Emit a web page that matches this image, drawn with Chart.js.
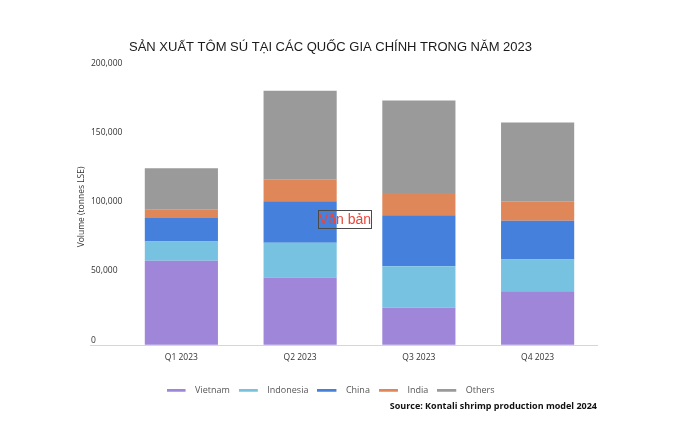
<!DOCTYPE html>
<html lang="vi">
<head>
  <meta charset="UTF-8">
  <title>Sản xuất tôm sú 2023</title>
  <script src="https://cdn.jsdelivr.net/npm/chart.js"></script>
  <style>
    html, body { margin: 0; padding: 0; background: #fff; }
    #wrap { width: 680px; height: 429px; }
  </style>
</head>
<body>
  <div id="wrap"><canvas id="shrimpChart"></canvas></div>

  <script>
    // data (tonnes LSE)
    const quarters = ['Q1 2023', 'Q2 2023', 'Q3 2023', 'Q4 2023'];
    const vietnam = [61000, 49000, 27000, 39000];
    const indonesia = [14000, 25000, 30000, 23000];
    const china = [17000, 30000, 37000, 28000];
    const india = [6000, 16000, 16000, 14000];
    const others = [30000, 64000, 67000, 57000];
    const seriesNames = ['Vietnam', 'Indonesia', 'China', 'India', 'Others'];
    const seriesColors = ['#9f86d8', '#76c2e0', '#4580dd', '#df8759', '#9a9a9a'];
    const yTicks = [0, 50000, 100000, 150000, 200000];

    const seriesData = [vietnam, indonesia, china, india, others];

    // small line marker for the legend, with a gap on its right side
    function lineMarker(color) {
      const c = document.createElement('canvas');
      c.width = 24;
      c.height = 4;
      const g = c.getContext('2d');
      g.fillStyle = color;
      g.fillRect(0, 0, 19, 3);
      return c;
    }
    const markers = seriesColors.map(lineMarker);

    // the floating "Văn bản" text box that sits over the picture
    const textBoxPlugin = {
      id: 'textBox',
      afterDraw(chart) {
        const ctx = chart.ctx;
        ctx.save();
        ctx.strokeStyle = '#4a4a4a';
        ctx.lineWidth = 1;
        ctx.strokeRect(318.5, 210.5, 53, 18);
        ctx.fillStyle = '#e8463a';
        ctx.font = '14px "Liberation Sans", Arial, sans-serif';
        ctx.textBaseline = 'middle';
        ctx.fillText('Văn bản', 319, 220);
        ctx.restore();
      }
    };

    const ctx = document.getElementById('shrimpChart').getContext('2d');
    new Chart(ctx, {
      type: 'bar',
      data: {
        labels: quarters,
        datasets: seriesNames.map((name, i) => ({
          label: name,
          data: seriesData[i],
          backgroundColor: seriesColors[i],
          borderWidth: 0,
          barPercentage: 0.616,
          categoryPercentage: 1
        }))
      },
      options: {
        responsive: true,
        maintainAspectRatio: false,
        animation: false,
        layout: {
          padding: { top: 30, left: 64, right: 83, bottom: 9 }
        },
        scales: {
          x: {
            stacked: true,
            grid: { display: false, drawTicks: false },
            border: { display: true, color: '#d6d6d6', width: 1 },
            ticks: {
              padding: 7,
              color: '#333',
              font: { family: '"Open Sans", sans-serif', size: 8.5 }
            },
            afterFit(scale) { scale.height = 32; }
          },
          y: {
            stacked: true,
            min: 0,
            max: 200000,
            afterBuildTicks(scale) {
              scale.ticks = yTicks.map(v => ({ value: v }));
            },
            afterFit(scale) { scale.width = 58; },
            border: { display: false },
            grid: {
              drawOnChartArea: false,
              drawTicks: true,
              tickLength: 32,
              tickColor: c => (c.tick && c.tick.value === 0 ? '#d6d6d6' : 'rgba(0,0,0,0)')
            },
            ticks: {
              mirror: true,
              padding: -31,
              labelOffset: -5,
              color: '#333',
              font: { family: '"Open Sans", sans-serif', size: 8.5 },
              callback: v => v.toLocaleString('en-US')
            },
            title: {
              display: true,
              text: 'Volume (tonnes LSE)',
              color: '#333',
              padding: { top: 12, bottom: 0 },
              font: { family: '"Open Sans", sans-serif', size: 8.5 }
            }
          }
        },
        plugins: {
          title: {
            display: true,
            text: 'SẢN XUẤT TÔM SÚ TẠI CÁC QUỐC GIA CHÍNH TRONG NĂM 2023',
            color: '#1a1a1a',
            font: { family: '"Liberation Sans", Arial, sans-serif', size: 13, weight: 'normal' },
            padding: { top: 10, bottom: 13 }
          },
          subtitle: {
            display: true,
            position: 'bottom',
            align: 'end',
            text: 'Source: Kontali shrimp production model 2024',
            color: '#111',
            font: { family: '"Open Sans", sans-serif', size: 9, weight: 'bold' },
            padding: { top: -4, bottom: 8 }
          },
          legend: {
            position: 'bottom',
            labels: {
              usePointStyle: true,
              pointStyleWidth: 24,
              boxHeight: 9,
              padding: 9,
              color: '#555',
              font: { family: '"Open Sans", sans-serif', size: 9 },
              generateLabels(chart) {
                const items = Chart.defaults.plugins.legend.labels.generateLabels(chart);
                items.forEach(it => { it.pointStyle = markers[it.datasetIndex]; });
                return items;
              }
            }
          },
          tooltip: { enabled: false }
        }
      },
      plugins: [textBoxPlugin]
    });
  </script>
</body>
</html>
